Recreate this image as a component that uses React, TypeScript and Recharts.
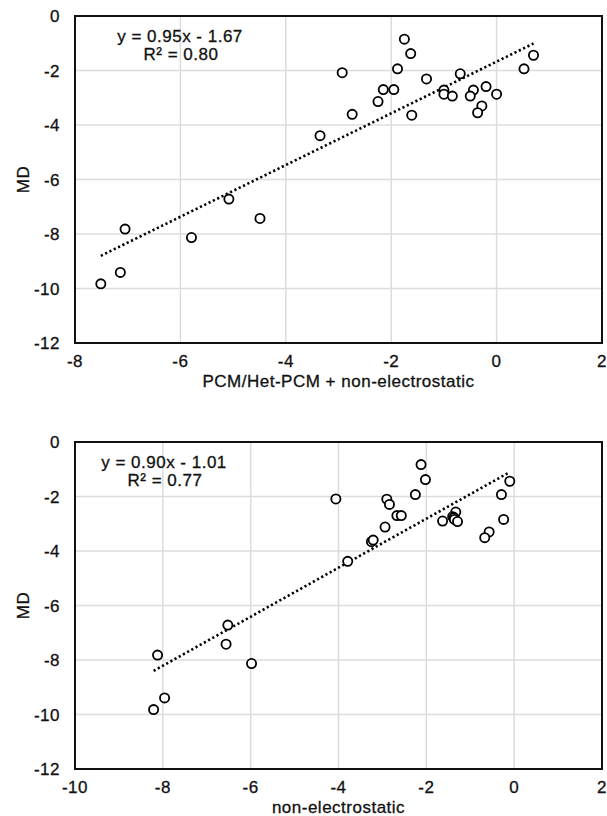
import React from "react";
import {
  CartesianGrid,
  Customized,
  ReferenceArea,
  ReferenceLine,
  Scatter,
  ScatterChart,
  XAxis,
  YAxis
} from "recharts";

// top panel: PCM/Het-PCM + non-electrostatic vs MD
const pcmX = [
  -1.75, -1.63, -2.93, -1.88, -1.33, -0.69, 0.52, 0.7, -2.15, -1.95, -2.25, -1.0, -1.0, -0.84, -0.44,
  -0.5, -0.2, 0.0, -0.28, -0.36, -2.74, -1.61, -3.35, -5.08, -4.49, -7.05, -5.79, -7.14, -7.51
];
const pcmMD = [
  -0.85, -1.38, -2.08, -1.94, -2.31, -2.12, -1.94, -1.44, -2.7, -2.7, -3.14, -2.72, -2.87, -2.94, -2.72,
  -2.94, -2.59, -2.87, -3.3, -3.55, -3.61, -3.64, -4.39, -6.72, -7.43, -7.82, -8.13, -9.41, -9.83
];
const pcmTrend = [
  { x: -7.51, y: -8.8 },
  { x: 0.7, y: -1.01 }
];

// bottom panel: non-electrostatic vs MD
const nonElX = [
  -2.12, -2.02, -4.06, -2.9, -2.84, -2.25, -0.1, -0.29, -2.67, -2.57, -1.33, -1.4, -1.37, -1.36, -1.29,
  -1.63, -0.24, -2.94, -0.57, -0.67, -3.25, -3.21, -3.79, -6.52, -6.56, -8.12, -5.98, -7.96, -8.21
];
const nonElMD = [
  -0.83, -1.38, -2.09, -2.1, -2.29, -1.93, -1.44, -1.93, -2.7, -2.7, -2.57, -2.74, -2.78, -2.84, -2.92,
  -2.9, -2.84, -3.12, -3.3, -3.51, -3.66, -3.6, -4.38, -6.72, -7.42, -7.82, -8.13, -9.39, -9.82
];
const nonElTrend = [
  { x: -8.21, y: -8.4 },
  { x: -0.15, y: -1.15 }
];

const mdTicks = [-12, -10, -8, -6, -4, -2, 0];
const pcmTicks = [-8, -6, -4, -2, 0, 2];
const nonElTicks = [-10, -8, -6, -4, -2, 0, 2];

const FONT = "'Liberation Sans', Arial, Helvetica, sans-serif";
const textStyle = {
  fill: "#111",
  fontSize: 17,
  fontFamily: FONT,
  letterSpacing: 0.5,
  stroke: "#111",
  strokeWidth: 0.3
};

const OpenCircle = (props: any) => (
  <circle cx={props.cx} cy={props.cy} r={4.6} fill="#fff" stroke="#000" strokeWidth={1.8} />
);

type PanelProps = {
  xs: number[];
  ys: number[];
  trend: { x: number; y: number }[];
  xTicks: number[];
  xTitle: string;
  eq: string;
  r2: string;
  eqX: number;
  top: number;
  height: number;
};

function Panel({ xs, ys, trend, xTicks, xTitle, eq, r2, eqX, top, height }: PanelProps) {
  const data = xs.map((x, i) => ({ x, y: ys[i] }));
  const xMin = xTicks[0];
  const xMax = xTicks[xTicks.length - 1];
  // plot box ends 343px below the panel top in both panels
  const bottomMargin = height - 390;
  return (
    <div style={{ position: "absolute", left: 0, top }}>
      <ScatterChart width={607} height={height} margin={{ top: 16, right: 5, bottom: bottomMargin, left: 15 }}>
        <CartesianGrid stroke="#dcdcdc" strokeWidth={1.5} />
        <XAxis
          type="number"
          dataKey="x"
          domain={[xMin, xMax]}
          ticks={xTicks}
          axisLine={false}
          tickLine={false}
          tickSize={0}
          tickMargin={12}
          height={47}
          tick={textStyle}
          label={{ value: xTitle, position: "insideBottom", offset: 3, style: textStyle }}
        />
        <YAxis
          type="number"
          dataKey="y"
          domain={[-12, 0]}
          ticks={mdTicks}
          axisLine={false}
          tickLine={false}
          tickSize={0}
          tickMargin={15}
          width={60}
          tick={textStyle}
          label={{
            value: "MD",
            angle: -90,
            position: "insideLeft",
            offset: 8,
            style: { ...textStyle, textAnchor: "middle" }
          }}
        />
        <ReferenceArea x1={xMin} x2={xMax} y1={-12} y2={0} fill="none" stroke="#111" strokeWidth={2} />
        <ReferenceLine segment={trend} stroke="#000" strokeWidth={2.6} strokeDasharray="2.2 2.6" />
        <Scatter data={data} shape={OpenCircle} isAnimationActive={false} />
        <Customized
          component={() => (
            <g
              fontFamily={FONT}
              fontSize={17}
              fill="#111"
              stroke="#111"
              strokeWidth={0.3}
              letterSpacing={0.5}
              textAnchor="middle"
            >
              <text x={eqX} y={42}>{eq}</text>
              <text x={eqX + 1} y={60}>{r2}</text>
            </g>
          )}
        />
      </ScatterChart>
    </div>
  );
}

export default function App() {
  return (
    <div
      style={{
        position: "absolute",
        left: 0,
        top: 0,
        width: 607,
        height: 816,
        overflow: "hidden",
        background: "#fff"
      }}
    >
      <Panel
        xs={pcmX}
        ys={pcmMD}
        trend={pcmTrend}
        xTicks={pcmTicks}
        xTitle="PCM/Het-PCM + non-electrostatic"
        eq="y = 0.95x - 1.67"
        r2="R² = 0.80"
        eqX={180}
        top={0}
        height={400}
      />
      <Panel
        xs={nonElX}
        ys={nonElMD}
        trend={nonElTrend}
        xTicks={nonElTicks}
        xTitle="non-electrostatic"
        eq="y = 0.90x - 1.01"
        r2="R² = 0.77"
        eqX={164}
        top={426}
        height={390}
      />
    </div>
  );
}
